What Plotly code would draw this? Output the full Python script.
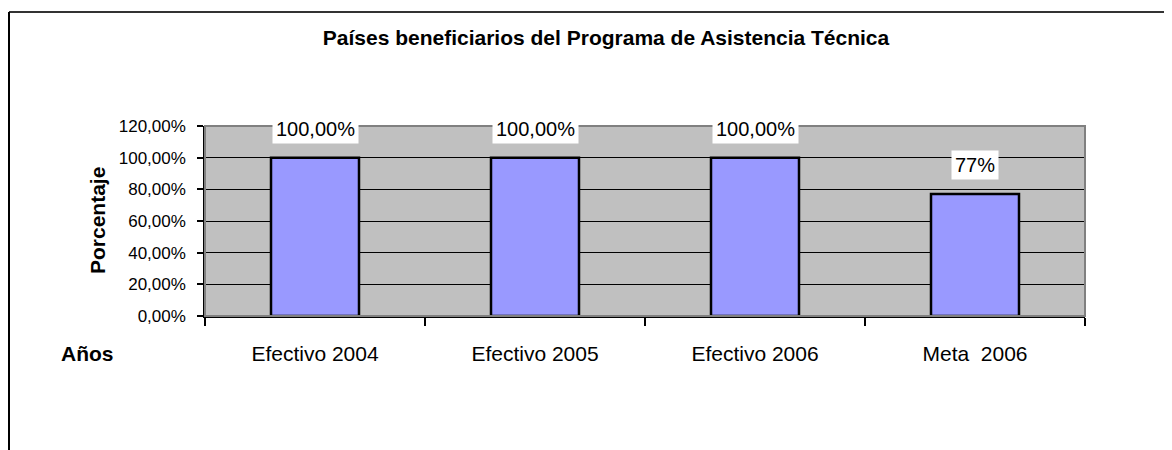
import plotly.graph_objects as go

categories = ["Efectivo 2004", "Efectivo 2005", "Efectivo 2006", "Meta  2006"]
values = [1.00, 1.00, 1.00, 0.77]
value_labels = ["100,00%", "100,00%", "100,00%", "77%"]
y_ticks = [0, 0.2, 0.4, 0.6, 0.8, 1.0, 1.2]

title_text = "Países beneficiarios del Programa de Asistencia Técnica"
y_title = "Porcentaje"
x_title = "Años"

FONT = "Liberation Sans, Arial, sans-serif"

# page offset (default body margin)
OFF = 8
W, H = 1172 - OFF, 450 - OFF
# plot area in screen pixels
L, R, T, B = 205, 1085, 126, 316

fig = go.Figure()
fig.add_trace(go.Bar(
    x=categories, y=values, width=0.4,
    marker=dict(color="#9999FF", line=dict(color="black", width=2.5)),
    hoverinfo="skip",
))

for c, v, t in zip(categories, values, value_labels):
    fig.add_annotation(
        x=c, y=v, xref="x", yref="y", text=t, showarrow=False,
        yanchor="middle", yshift=29, bgcolor="white", borderpad=3,
        font=dict(family=FONT, size=20, color="black"),
    )

pw, ph = R - L, B - T
def px_x(x):
    return (x - L) / pw
def px_y(y):
    return (B - y) / ph

# plot-area gray border (top/right)
fig.add_shape(type="rect", xref="paper", yref="paper", x0=0, y0=0, x1=1, y1=1,
              line=dict(color="#808080", width=2), layer="above")
# outer chart frame (top and left edges)
fig.add_shape(type="line", xref="paper", yref="paper",
              x0=px_x(9), y0=px_y(12), x1=px_x(1180), y1=px_y(12),
              line=dict(color="#333333", width=2))
fig.add_shape(type="line", xref="paper", yref="paper",
              x0=px_x(9), y0=px_y(12), x1=px_x(9), y1=px_y(460),
              line=dict(color="black", width=2))

fig.add_annotation(
    xref="paper", yref="paper", x=px_x(97), y=0.5, text="<b>%s</b>" % y_title,
    textangle=-90, showarrow=False, xanchor="center", yanchor="middle",
    font=dict(family=FONT, size=21, color="black"),
)
fig.add_annotation(
    xref="paper", yref="paper", x=px_x(87), y=px_y(353), text="<b>%s</b>" % x_title,
    showarrow=False, xanchor="center", yanchor="middle",
    font=dict(family=FONT, size=21, color="black"),
)

fig.update_layout(
    width=W, height=H,
    margin=dict(l=L - OFF, r=W - (R - OFF), t=T - OFF, b=H - (B - OFF), pad=0),
    paper_bgcolor="white", plot_bgcolor="#C0C0C0",
    separators=",.",
    showlegend=False,
    title=dict(text="<b>%s</b>" % title_text, x=(606 - OFF) / W, xanchor="center",
               y=1 - (38 - OFF) / H, yanchor="middle",
               font=dict(family=FONT, size=21, color="black")),
    bargap=0.6,
)
fig.update_xaxes(
    type="category", showline=True, linecolor="black", linewidth=1.5,
    ticks="outside", tickson="boundaries", ticklen=8, tickcolor="black", tickwidth=1.5,
    tickfont=dict(family=FONT, size=21, color="black"),
    showgrid=False, zeroline=False, ticklabelstandoff=18,
)
fig.update_yaxes(
    range=[0, 1.2], tickvals=y_ticks, tickformat=".2%",
    showline=True, linecolor="black", linewidth=1.5,
    ticks="outside", ticklen=6, tickcolor="black", tickwidth=1.5,
    tickfont=dict(family=FONT, size=17, color="black"),
    showgrid=True, gridcolor="black", gridwidth=1, zeroline=False,
    ticklabelstandoff=8,
)

fig.write_html("out.html")
